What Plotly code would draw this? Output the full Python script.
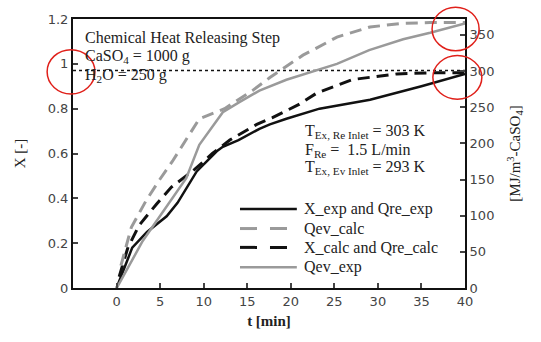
import plotly.graph_objects as go

# X_exp and Qre_exp (left axis, X [-])
t_xexp = [0, 1.8, 3.5, 5.75, 7.0, 9.2, 11.5, 12.2, 14.0, 16.4, 17.6, 19.5, 23.3, 29.1, 35.0, 40.0]
x_exp = [0, 0.18, 0.25, 0.32, 0.38, 0.52, 0.61, 0.63, 0.66, 0.71, 0.73, 0.755, 0.80, 0.84, 0.90, 0.955]

# X_calc and Qre_calc (left axis)
t_xcalc = [0.3, 1.3, 2.6, 4.6, 6.3, 9.0, 11.0, 13.0, 16.1, 17.9, 21.0, 23.0, 27.1, 32.2, 36.0, 40.0]
x_calc = [0.05, 0.18, 0.28, 0.375, 0.45, 0.53, 0.60, 0.66, 0.73, 0.76, 0.82, 0.87, 0.93, 0.955, 0.96, 0.96]

# Qev_calc (right axis, MJ/m3-CaSO4)
t_qcalc = [0.5, 1.7, 3.4, 4.9, 6.4, 7.6, 9.5, 12.4, 15.6, 17.6, 19.5, 21.4, 23.0, 25.3, 29.1, 32.9, 36.0, 40.0]
q_calc = [31, 84, 121, 149, 175, 198, 234, 248, 273, 291, 307, 322, 332, 347, 361, 366, 367, 367]

# Qev_exp (right axis)
t_qexp = [0, 0.3, 3.0, 5.7, 8.0, 9.5, 12.2, 14.1, 16.4, 19.5, 23.0, 25.3, 29.0, 32.9, 36.0, 40.0]
q_exp = [0, 6, 65, 112, 152, 198, 243, 257, 273, 288, 301, 310, 329, 344, 353, 366]

ref_level = 0.97
x_ticks = [0, 5, 10, 15, 20, 25, 30, 35, 40]
y_ticks = [0, 0.2, 0.4, 0.6, 0.8, 1.0, 1.2]
y_ticktext = ["0", "0.2", "0.4", "0.6", "0.8", "1", "1.2"]
y2_ticks = [0, 50, 100, 150, 200, 250, 300, 350]

BLACK = "#111111"
GRAY = "#9a9a9a"
SERIF = "Liberation Serif, Times New Roman, serif"
SANS = "DejaVu Sans, Verdana, sans-serif"
TXT = "#222"
FS = 16

series = [
    dict(name="X_exp and Qre_exp", x=t_xexp, y=x_exp, axis="y", color=BLACK, width=2.5, dash="solid"),
    dict(name="Qev_calc", x=t_qcalc, y=q_calc, axis="y2", color=GRAY, width=3, dash="12px,7px"),
    dict(name="X_calc and Qre_calc", x=t_xcalc, y=x_calc, axis="y", color=BLACK, width=3, dash="12px,7px"),
    dict(name="Qev_exp", x=t_qexp, y=q_exp, axis="y2", color=GRAY, width=2.5, dash="solid"),
]
legend_dash = {"solid": "solid", "12px,7px": "17px,13px"}

fig = go.Figure()
fig.add_trace(go.Scatter(x=[-5, 40], y=[ref_level, ref_level], mode="lines",
                         line=dict(color=BLACK, width=1.5, dash="dot"), showlegend=False,
                         hoverinfo="skip"))
for s in series:
    fig.add_trace(go.Scatter(x=s["x"], y=s["y"], mode="lines", name=s["name"], yaxis=s["axis"],
                             line=dict(color=s["color"], width=s["width"], dash=s["dash"]),
                             showlegend=False))

fig.update_layout(
    width=541, height=342,
    margin=dict(l=73, r=76, t=16, b=54),
    paper_bgcolor="white", plot_bgcolor="white",
    font=dict(family=SERIF, size=FS, color=TXT),
    xaxis=dict(range=[-5, 40], tickvals=x_ticks, ticks="inside", ticklen=5, tickwidth=1.5,
               showline=True, linecolor=BLACK, linewidth=2, mirror=True, showgrid=False,
               zeroline=False, tickfont=dict(family=SANS, size=13, color="#444"),
               title=dict(text="<b>t [min]</b>", font=dict(family=SERIF, size=15, color=TXT),
                          standoff=8)),
    yaxis=dict(range=[0, 1.2], tickvals=y_ticks, ticktext=y_ticktext, ticks="inside", ticklen=5,
               tickwidth=1.5, showline=True, linecolor=BLACK, linewidth=2, showgrid=False,
               zeroline=False, tickfont=dict(family=SANS, size=13, color="#444"),
               title=dict(text="X [-]", font=dict(family=SERIF, size=15, color=TXT), standoff=18)),
    yaxis2=dict(range=[0, 372], tickvals=y2_ticks, ticks="inside", ticklen=5, tickwidth=1.5,
                overlaying="y", side="right", showline=True, linecolor=BLACK, linewidth=2,
                showgrid=False, zeroline=False, tickfont=dict(family=SANS, size=13, color="#444"),
                title=dict(text="[MJ/m<sup>3</sup>-CaSO<sub>4</sub>]",
                           font=dict(family=SERIF, size=15, color=TXT), standoff=16)),
    showlegend=False,
)

ann = [
    ("Chemical Heat Releasing Step", 0.0255, 0.930),
    ("CaSO<sub>4</sub> = 1000 g", 0.0255, 0.860),
    ("H<sub>2</sub>O = 250 g", 0.0255, 0.790),
    ("T<sub>Ex, Re Inlet</sub> = 303 K", 0.587, 0.580),
    ("F<sub>Re</sub> =  1.5 L/min", 0.587, 0.513),
    ("T<sub>Ex, Ev Inlet</sub> = 293 K", 0.587, 0.447),
]
for txt, ax, ay in ann:
    fig.add_annotation(text=txt, x=ax, y=ay, xref="paper", yref="paper", xanchor="left",
                       yanchor="middle", showarrow=False,
                       font=dict(family=SERIF, size=FS, color=TXT))

# hand-drawn legend box (long line samples like the reference)
leg_rows = [0.294, 0.221, 0.151, 0.077]
for s, ly in zip(series, leg_rows):
    fig.add_shape(type="line", xref="paper", yref="paper", x0=0.426, x1=0.571, y0=ly, y1=ly,
                  line=dict(color=s["color"], width=s["width"], dash=legend_dash[s["dash"]]))
    fig.add_annotation(text=s["name"], x=0.584, y=ly, xref="paper", yref="paper",
                       xanchor="left", yanchor="middle", showarrow=False,
                       font=dict(family=SERIF, size=FS, color=TXT))

circles = [(-0.066, 0.056, 0.721, 0.886), (0.916, 1.036, 0.882, 1.044), (0.918, 1.043, 0.702, 0.864)]
for x0, x1, y0, y1 in circles:
    fig.add_shape(type="circle", xref="paper", yref="paper", x0=x0, x1=x1, y0=y0, y1=y1,
                  line=dict(color="#e0201a", width=1.5), layer="above")

fig.write_html("out.html")
